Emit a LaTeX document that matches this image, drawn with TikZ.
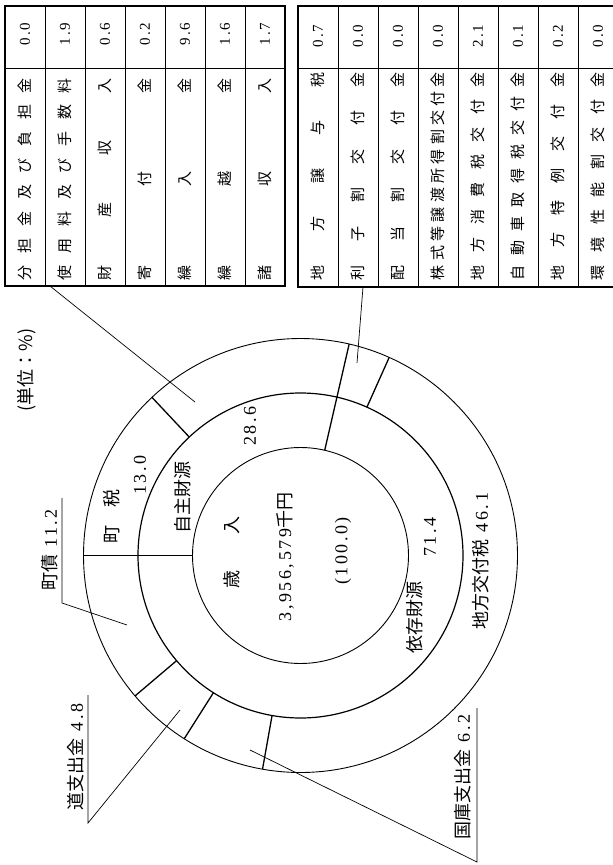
\documentclass[tikz,border=0pt]{standalone}
\usepackage{fontspec}
\setmainfont{Liberation Serif}[LetterSpace=14]
\newfontfamily\jp{Noto Sans CJK JP}
\hbadness=10000
\tikzstyle{every node}=[inner sep=0pt, rotate=90]
\tikzstyle{cell}=[font=\fontsize{15}{15}\selectfont]
\tikzstyle{chart}=[font=\fontsize{18}{18}\selectfont]
\tikzstyle{leader}=[line width=0.7pt]

\begin{document}
\begin{tikzpicture}[x=1pt, y=-1pt, line width=0.9pt]
\useasboundingbox (0,0) rectangle (613,865);
% Left table
    \draw[line width=1.4pt] (5,6) rectangle (285,286);
    \draw (5,68) -- (285,68);
    \foreach \i in {1,...,6} \draw (5+40*\i,6) -- (5+40*\i,286);
    \foreach \lbl/\val [count=\i] in {分 担 金 及 び 負 担 金/0.0, 使 用 料 及 び 手 数 料/1.9,
        財 産 収 入/0.6, 寄 付 金/0.2, 繰 入 金/9.6, 繰 越 金/1.6, 諸 収 入/1.7} {
        \node[cell] (lt-v\i) at (-15+40*\i,34) {\val};
        \node[cell] (lt-l\i) at (-15+40*\i,179) {\makebox[202pt][s]{\jp\lbl}};
    }
% Right table
    \draw[line width=1.4pt] (298,6) rectangle (618,287);
    \draw (298,68) -- (618,68);
    \foreach \i in {1,...,7} \draw (298+40*\i,6) -- (298+40*\i,287);
    \foreach \lbl/\val [count=\i] in {地 方 譲 与 税/0.7, 利 子 割 交 付 金/0.0, 配 当 割 交 付 金/0.0,
        株 式 等 譲 渡 所 得 割 交 付 金/0.0, 地 方 消 費 税 交 付 金/2.1, 自 動 車 取 得 税 交 付 金/0.1,
        地 方 特 例 交 付 金/0.2, 環 境 性 能 割 交 付 金/0.0} {
        \node[cell] (rt-v\i) at (278+40*\i,36) {\val};
        \node[cell] (rt-l\i) at (278+40*\i,176) {\makebox[208pt][s]{\jp\lbl}};
    }
% Rings
    \begin{scope}[shift={(300.5,555.5)}, yscale=-1]
        \draw (0,0) circle (108);
        \draw[line width=1.2pt] (0,0) circle (162.5);
        \draw (0,0) circle (217);
        \foreach \a in {180, 77.04} \draw[line width=1.3pt] (\a:108) -- (\a:217);
        \foreach \a in {133.2, 65.88, -100.08, -122.4, -139.68} \draw[line width=1.3pt] (\a:162.5) -- (\a:217);
    \end{scope}
% Texts in the rings
    \node[chart] (unit) at (27,370) {\jp (単位：\%)};
    \node[chart] (towntax) at (112,516) {\jp 町　税};
    \node[chart] (towntax-v) at (140,475) {13.0};
    \node[chart] (own) at (183,497) {\jp 自主財源};
    \node[chart] (own-v) at (250,426) {28.6};
    \node[chart] (rev) at (232,552) {\jp 歳　　入};
    \node[chart] (rev-total) at (285,557) {3,956,579{\jp 千円}};
    \node[chart] (rev-pct) at (343,551) {(100.0)};
    \node[chart] (dep) at (415,617) {\jp 依存財源};
    \node[chart] (dep-v) at (430,537) {71.4};
    \node[chart] (alloc) at (481,561) {{\jp 地方交付税}\ 46.1};
% Outside labels
    \node[chart] (debt) at (50,550) {{\jp 町債}\ 11.2};
    \node[chart] (pref) at (76,757) {{\jp 道支出金}\ 4.8};
    \node[chart] (natl) at (463,777) {{\jp 国庫支出金}\ 6.2};
% Leaders
    \coordinate (debt-end) at (62,603);
    \coordinate (debt-tip) at (127,625);
    \coordinate (pref-end) at (88,823);
    \coordinate (pref-tip) at (180,710);
    \coordinate (natl-end) at (477,862);
    \coordinate (natl-tip) at (250,750);
    \coordinate (lt-foot) at (50,286);
    \coordinate (lt-tip) at (195,402);
    \coordinate (rt-foot) at (363,287);
    \coordinate (rt-tip) at (357,363);
    \draw[leader] (62,498) -- (debt-end) -- (debt-tip);
    \draw[leader] (88,695) -- (pref-end) -- (pref-tip);
    \draw[leader] (477,708) -- (natl-end) -- (natl-tip);
    \draw[leader] (lt-foot) -- (lt-tip);
    \draw[leader] (rt-foot) -- (rt-tip);
\end{tikzpicture}
\end{document}
